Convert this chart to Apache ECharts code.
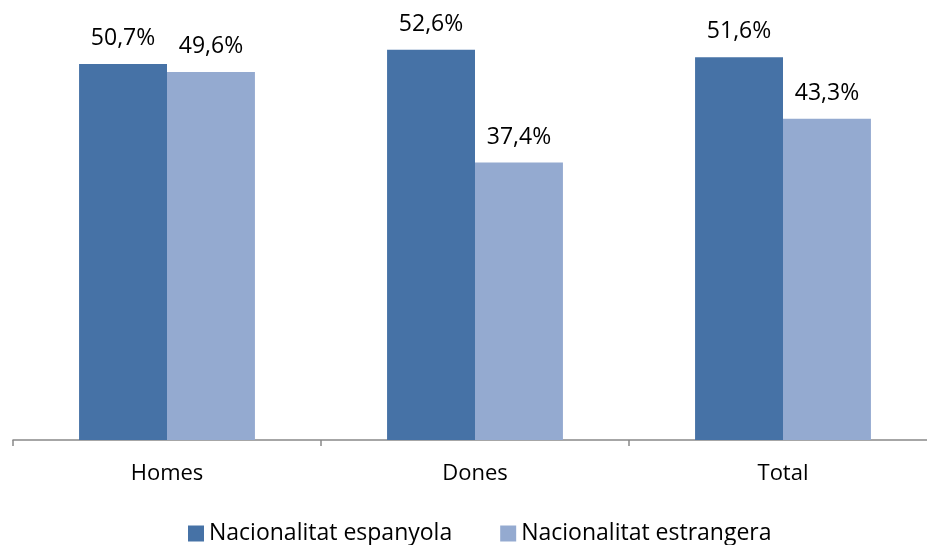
<!DOCTYPE html>
<html><head><meta charset="utf-8">
<script src="https://cdn.jsdelivr.net/npm/echarts@6/dist/echarts.min.js"></script>
<style>html,body{margin:0;padding:0;background:#fff;overflow:hidden}#c{width:937px;height:545px}</style>
</head><body><div id="c"></div>
<script>
const categories = ['Homes', 'Dones', 'Total'];
const espanyola = [50.7, 52.6, 51.6];
const estrangera = [49.6, 37.4, 43.3];
const seriesNames = ['Nacionalitat espanyola', 'Nacionalitat estrangera'];
const colors = ['#4672A6', '#94AAD0'];
const font = '"Open Sans", "Noto Sans", sans-serif';
const fmt = p => p.value.toFixed(1).replace('.', ',') + '%';
const chart = echarts.init(document.getElementById('c'), null, {renderer: 'canvas'});
chart.setOption({
  animation: false,
  grid: {left: 13, right: 0, top: 32, bottom: 105, containLabel: false},
  legend: {
    data: seriesNames, top: 517, left: 183, itemWidth: 16, itemHeight: 16, itemGap: 48,
    icon: 'rect', textStyle: {fontFamily: font, fontSize: 23, color: '#000'}
  },
  xAxis: {
    type: 'category', data: categories,
    axisLine: {lineStyle: {color: '#898989', width: 1.5}},
    axisTick: {show: true, length: 6, lineStyle: {color: '#898989', width: 1.5}},
    axisLabel: {margin: 23, fontFamily: font, fontSize: 22, color: '#000'}
  },
  yAxis: {type: 'value', min: 0, max: 55, show: false, splitLine: {show: false}},
  series: [
    {name: seriesNames[0], type: 'bar', data: espanyola, itemStyle: {color: colors[0]},
     barGap: '0%', barCategoryGap: '42.9%',
     label: {show: true, position: 'top', distance: 14, formatter: fmt, fontFamily: font, fontSize: 23, color: '#000'}},
    {name: seriesNames[1], type: 'bar', data: estrangera, itemStyle: {color: colors[1]},
     barGap: '0%', barCategoryGap: '42.9%',
     label: {show: true, position: 'top', distance: 14, formatter: fmt, fontFamily: font, fontSize: 23, color: '#000'}}
  ]
});
</script></body></html>
